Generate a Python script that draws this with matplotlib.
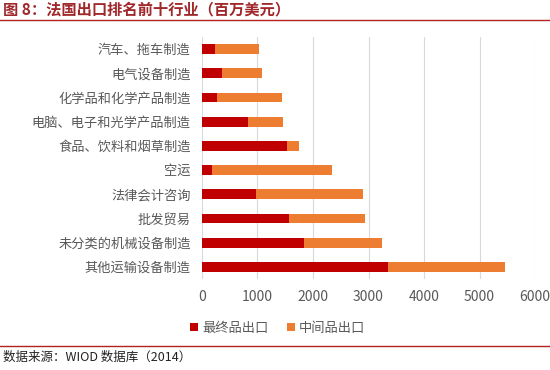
import numpy as np
import matplotlib.pyplot as plt
from matplotlib.lines import Line2D

plt.rcParams['font.family'] = ['Noto Sans CJK SC', 'DejaVu Sans']

categories = ['其他运输设备制造', '未分类的机械设备制造', '批发贸易', '法律会计咨询', '空运',
              '食品、饮料和烟草制造', '电脑、电子和光学产品制造', '化学品和化学产品制造',
              '电气设备制造', '汽车、拖车制造']
final_exp = [3350, 1835, 1560, 980, 180, 1540, 830, 270, 365, 245]
total_exp = [5450, 3250, 2930, 2900, 2335, 1740, 1460, 1445, 1075, 1020]
inter_exp = [t - f for t, f in zip(total_exp, final_exp)]
xticks = [0, 1000, 2000, 3000, 4000, 5000, 6000]

red = '#C00000'
orange = '#ED7D31'

fig = plt.figure(figsize=(5.5, 3.7), dpi=100)
ax = fig.add_axes([0.367, 0.246, 0.606, 0.654])

y = np.arange(len(categories))
ax.barh(y, final_exp, height=0.4, color=red, label='最终品出口', zorder=3)
ax.barh(y, inter_exp, left=final_exp, height=0.4, color=orange, label='中间品出口', zorder=3)

ax.set_xlim(0, 6000)
ax.set_ylim(-0.5, len(categories) - 0.5)
ax.set_xticks(xticks)
ax.set_yticks(y)
ax.set_yticklabels(categories)
ax.tick_params(axis='y', length=0, pad=8, labelsize=9.5, labelcolor='#595959')
ax.tick_params(axis='x', length=0, pad=8, labelsize=10, labelcolor='#595959')
ax.grid(axis='x', color='#D9D9D9', linewidth=0.8, zorder=0)
for s in ax.spines.values():
    s.set_visible(False)

fig.legend(loc='center', bbox_to_anchor=(0.505, 0.113), ncol=2, frameon=False,
           fontsize=9.5, handlelength=0.6, handleheight=0.6, handletextpad=0.3,
           columnspacing=1.4, labelcolor='#595959')

fig.text(0.006, 0.975, '图 8：法国出口排名前十行业（百万美元）', fontsize=11,
         fontweight='bold', color='#A0282B', va='center', ha='left')
fig.add_artist(Line2D([0, 1], [0.945, 0.945], color='#B22222', linewidth=1.0))
fig.add_artist(Line2D([0, 1], [0.065, 0.065], color='#B22222', linewidth=1.0))
fig.text(0.006, 0.035, '数据来源：WIOD 数据库（2014）', fontsize=9, color='#222222',
         va='center', ha='left')

fig.savefig('out.png', dpi=100)
